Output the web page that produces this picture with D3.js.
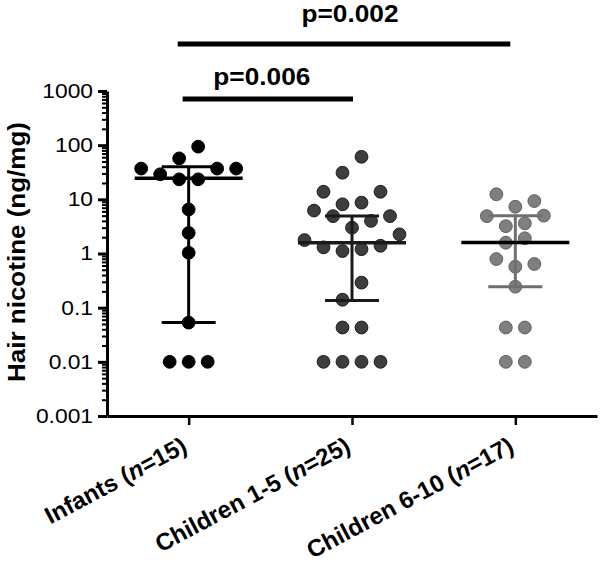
<!DOCTYPE html>
<html>
<head>
<meta charset="utf-8">
<script src="https://cdn.jsdelivr.net/npm/d3@7"></script>
<style>
  html, body { margin: 0; padding: 0; background: #fff; }
  svg { display: block; font-family: "Liberation Sans", Arial, Helvetica, sans-serif; }
</style>
</head>
<body>
<svg id="chart" width="600" height="566"></svg>
<script>
// ---------------- data ----------------
const categories = ["Infants", "Children 1-5", "Children 6-10"];
const sampleSizes = [15, 25, 17];
const infants = [94, 57, 37, 37, 37, 29, 23.4, 23.4, 6.5, 2.4, 1.03, 0.053, 0.01, 0.01, 0.01];
const children1to5 = [61, 31, 13.8, 13.8, 8.7, 8.1, 6.2, 4.9, 4.9, 4.0, 3.0, 2.26, 1.77, 1.39, 1.30, 1.20, 1.11, 0.29, 0.14, 0.043, 0.043, 0.01, 0.01, 0.01, 0.01];
const children6to10 = [12.4, 9.3, 7.3, 5.0, 4.9, 3.6, 3.2, 1.91, 1.58, 0.79, 0.64, 0.57, 0.244, 0.043, 0.043, 0.01, 0.01];
const medians = [24.5, 1.58, 1.6];
const lowerQuartiles = [0.053, 0.135, 0.244];
const upperQuartiles = [40, 4.9, 5.0];
const yTickValues = [0.001, 0.01, 0.1, 1, 10, 100, 1000];
const yTickLabels = ["0.001", "0.01", "0.1", "1", "10", "100", "1000"];
const comparisons = [
  { from: 0, to: 1, label: "p=0.006" },
  { from: 0, to: 2, label: "p=0.002" }
];
const yTitle = "Hair nicotine (ng/mg)";

// ---------------- styles ----------------
const groupValues = [infants, children1to5, children6to10];
const fills = ["#000000", "#3d3d3d", "#7f7f7f"];
const strokes = ["#000000", "#1e1e1e", "#5e5e5e"];
const whiskerColors = ["#000000", "#1a1a1a", "#6f6f6f"];
const medianColors = ["#000000", "#1a1a1a", "#000000"];

function stretch(sel, factor) {
  sel.each(function () {
    const n = this.getComputedTextLength();
    d3.select(this).attr("textLength", n * factor).attr("lengthAdjust", "spacingAndGlyphs");
  });
}

const svg = d3.select("#chart");
svg.append("rect").attr("width", 600).attr("height", 566).attr("fill", "#fff");

const x = d3.scalePoint().domain(categories).range([107, 597]).padding(0.5);
const y = d3.scaleLog().domain([0.001, 1000]).range([416, 91]);

// ---------------- axes ----------------
const yMinor = [];
for (let e = -3; e < 3; e++) for (let m = 2; m <= 9; m++) yMinor.push(m * Math.pow(10, e));

const yAxisMinor = svg.append("g").attr("transform", "translate(107,0)")
  .call(d3.axisLeft(y).tickValues(yMinor).tickSize(5).tickSizeOuter(0).tickFormat(""));
yAxisMinor.select(".domain").remove();
yAxisMinor.selectAll(".tick line").attr("stroke", "#000").attr("stroke-width", 2);

const yAxis = svg.append("g").attr("transform", "translate(107,0)")
  .call(d3.axisLeft(y).tickValues(yTickValues).tickSize(9).tickSizeOuter(0)
    .tickFormat((d, i) => yTickLabels[i]));
yAxis.select(".domain").attr("stroke", "#000").attr("stroke-width", 3);
yAxis.selectAll(".tick line").attr("stroke", "#000").attr("stroke-width", 3);
yAxis.selectAll(".tick text").attr("x", -14).attr("font-size", 20)
  .attr("font-family", "'Liberation Sans', Arial, sans-serif").attr("fill", "#000")
  .call(stretch, 1.14);

const xAxis = svg.append("g").attr("transform", "translate(0,416)")
  .call(d3.axisBottom(x).tickSize(9).tickSizeOuter(0).tickFormat(""));
xAxis.select(".domain").attr("stroke", "#000").attr("stroke-width", 3);
xAxis.selectAll(".tick line").attr("stroke", "#000").attr("stroke-width", 2.5);

// category labels (rotated)
categories.forEach((c, i) => {
  const t = svg.append("text")
    .attr("transform", `translate(${x(c)},451) rotate(-28)`)
    .attr("text-anchor", "end")
    .attr("font-size", 24).attr("font-weight", "bold").attr("fill", "#000");
  t.append("tspan").text(c + " (");
  t.append("tspan").attr("font-style", "italic").text("n");
  t.append("tspan").text("=" + sampleSizes[i] + ")");
});

// y title
svg.append("text")
  .attr("transform", "translate(25,252) rotate(-90)")
  .attr("text-anchor", "middle")
  .attr("font-size", 24).attr("font-weight", "bold").attr("fill", "#000")
  .attr("textLength", 260).attr("lengthAdjust", "spacingAndGlyphs")
  .text(yTitle);

// ---------------- swarm layout (rows, centred) ----------------
const spacing = 19;
const rowThreshold = 0.335; // decades
function swarm(values) {
  const pts = values.map(v => ({ v }));
  const sorted = pts.slice().sort((a, b) => b.v - a.v);
  const rows = [];
  let cur = null;
  sorted.forEach(p => {
    if (cur && Math.log10(cur[0].v) - Math.log10(p.v) < rowThreshold) cur.push(p);
    else { cur = [p]; rows.push(cur); }
  });
  rows.forEach(row => {
    row.sort((a, b) => a.v - b.v);
    const n = row.length;
    row.forEach((p, i) => {
      if (n % 2 === 1) {
        if (i === 0) p.dx = 0;
        else { const k = Math.ceil(i / 2); p.dx = (i % 2 === 1 ? 1 : -1) * k * spacing; }
      } else {
        const k = Math.floor(i / 2); p.dx = (i % 2 === 0 ? -1 : 1) * (k + 0.5) * spacing;
      }
    });
  });
  return pts;
}

// ---------------- points ----------------
groupValues.forEach((vals, gi) => {
  const cx = x(categories[gi]);
  const pts = swarm(vals);
  svg.append("g").selectAll("circle").data(pts).join("circle")
    .attr("cx", d => cx + d.dx)
    .attr("cy", d => y(d.v))
    .attr("r", 6.4)
    .attr("fill", fills[gi])
    .attr("stroke", strokes[gi])
    .attr("stroke-width", 1);
});

// ---------------- median & IQR ----------------
const medHalf = 54, whiskHalf = 27;
categories.forEach((c, i) => {
  const cx = x(c);
  const g = svg.append("g");
  g.append("line").attr("x1", cx).attr("x2", cx)
    .attr("y1", y(upperQuartiles[i])).attr("y2", y(lowerQuartiles[i]))
    .attr("stroke", whiskerColors[i]).attr("stroke-width", 3);
  [upperQuartiles[i], lowerQuartiles[i]].forEach(q => {
    g.append("line").attr("x1", cx - whiskHalf).attr("x2", cx + whiskHalf)
      .attr("y1", y(q)).attr("y2", y(q))
      .attr("stroke", whiskerColors[i]).attr("stroke-width", 3);
  });
  g.append("line").attr("x1", cx - medHalf).attr("x2", cx + medHalf)
    .attr("y1", y(medians[i])).attr("y2", y(medians[i]))
    .attr("stroke", medianColors[i]).attr("stroke-width", 3.5);
});

// ---------------- significance bars ----------------
const barY = [99, 44];
const labelY = [85, 22];
comparisons.forEach((cmp, i) => {
  const x1 = x(categories[cmp.from]) - (i === 0 ? 6 : 11);
  const x2 = x(categories[cmp.to]) + (i === 0 ? 1 : -5);
  svg.append("line").attr("x1", x1).attr("x2", x2).attr("y1", barY[i]).attr("y2", barY[i])
    .attr("stroke", "#000").attr("stroke-width", 5);
  svg.append("text").attr("x", i === 0 ? (x1 + x2) / 2 - 6 : (x1 + x2) / 2 + 6).attr("y", labelY[i])
    .attr("text-anchor", "middle").attr("font-size", 23.5).attr("font-weight", "bold")
    .attr("fill", "#000").attr("textLength", 97).attr("lengthAdjust", "spacingAndGlyphs")
    .text(cmp.label);
});
</script>
</body>
</html>
